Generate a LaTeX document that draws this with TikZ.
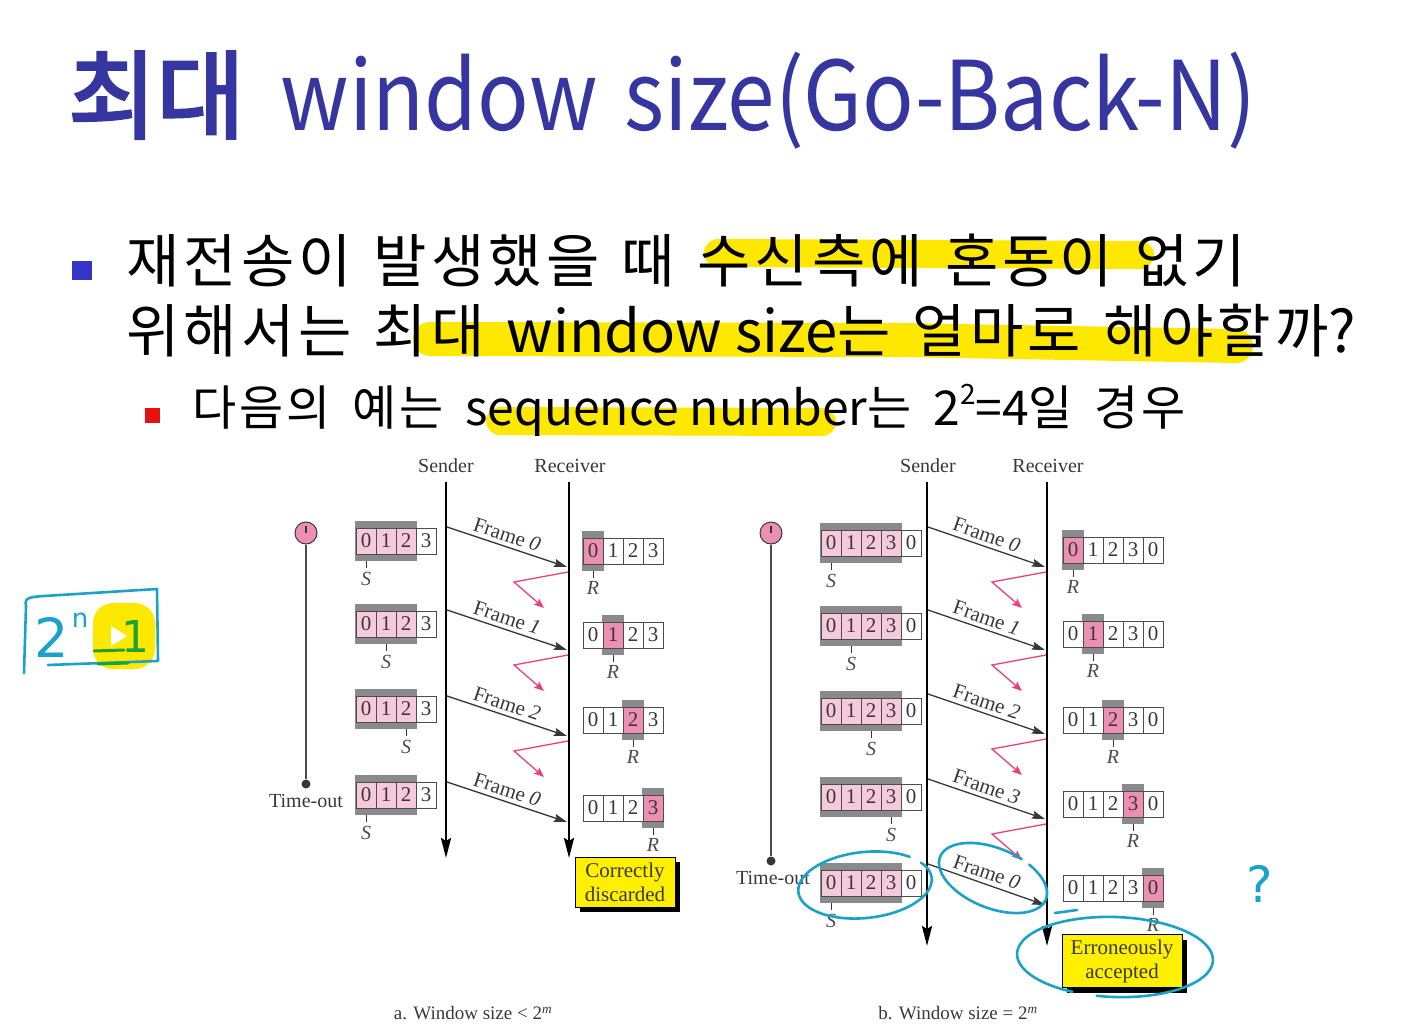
\documentclass[tikz,border=0pt]{standalone}
\usepackage{fontspec}
\setmainfont{Liberation Serif}
\newfontfamily\kr{Noto Sans CJK KR}
\newfontfamily\krs{Noto Sans CJK KR}[LetterSpace=7,WordSpace=1.3]
\newfontfamily\krt{Noto Sans CJK KR}[LetterSpace=6,WordSpace=1.6]
\newfontfamily\krb{Noto Sans CJK KR}[FakeBold=3]
\newfontfamily\hand{DejaVu Sans}
\usetikzlibrary{arrows.meta,calc,shadows}

\definecolor{titleblue}{HTML}{3636A0}
\definecolor{bulletblue}{HTML}{3434C8}
\definecolor{bulletred}{HTML}{E81010}
\definecolor{hl}{HTML}{FFE800}
\definecolor{pinklt}{HTML}{F6CADA}
\definecolor{pinkdk}{HTML}{EC8FB2}
\definecolor{band}{HTML}{8A8A8A}
\definecolor{ackpink}{HTML}{EC4079}
\definecolor{ink}{HTML}{383838}
\definecolor{note}{HTML}{1AA2C8}
\definecolor{notegreen}{HTML}{1BA33A}
\definecolor{boxyellow}{HTML}{FFF000}

% sender window: name, left x, centre y, shaded cells, S index, labels
\newcommand{\sndwin}[6]{%
  \fill[band] ({#2-1},{#3-20}) rectangle ({#2+#4*20+1},{#3+20});
  \foreach \lab [count=\i from 0] in {#6} {
    \ifnum\i<#4 \def\cf{pinklt}\else\def\cf{white}\fi
    \node[cell, fill=\cf] (#1c\i) at ({#2+\i*20+10},#3) {\lab};
  }
  \node[tick] (#1t) at ({#2+#5*20+10},{#3+20}) {};
  \draw[ink, line width=0.9] (#1t.center) -- ++(0,7);
  \node[ptr] (#1s) at ({#2+#5*20+10},{#3+38}) {S};
}
% receiver window: name, left x, centre y, expected index, labels
\newcommand{\rcvwin}[5]{%
  \fill[band] ({#2+#4*20-1},{#3-20}) rectangle ({#2+#4*20+21},{#3+20});
  \foreach \lab [count=\i from 0] in {#5} {
    \ifnum\i=#4 \def\cf{pinkdk}\else\def\cf{white}\fi
    \node[cell, fill=\cf] (#1c\i) at ({#2+\i*20+10},#3) {\lab};
  }
  \node[tick] (#1t) at ({#2+#4*20+10},{#3+20}) {};
  \draw[ink, line width=0.9] (#1t.center) -- ++(0,7);
  \node[ptr] (#1r) at ({#2+#4*20+10},{#3+37}) {R};
}
% frame arrow with its label
\newcommand{\frm}[6]{% name, sender x, receiver x, start y, end y, label
  \coordinate (#1s) at ({#2+1},#4);
  \coordinate (#1e) at ({#3-2},#5);
  \draw[frame] (#1s) -- node[flabel] (#1l) {Frame \textit{#6}} (#1e);
}
% acknowledgement that goes back and is lost
\newcommand{\ack}[3]{% name, receiver x, frame end y
  \coordinate (#1a) at ({#2-1},{#3+5});
  \coordinate (#1b) at ({#2-55},{#3+15});
  \coordinate (#1c) at ({#2-25},{#3+41});
  \draw[ackline] (#1a) -- (#1b) -- (#1c);
}

\begin{document}
\begin{tikzpicture}[x=1pt,y=-1pt,
  cell/.style={draw=ink!90, line width=0.8pt, minimum width=20pt, minimum height=26pt,
    inner sep=0pt, text=ink, font=\fontsize{21}{21}\selectfont},
  tick/.style={inner sep=0pt, minimum size=0pt},
  ptr/.style={text=ink!90, font=\itshape\fontsize{20}{20}\selectfont, inner sep=0pt},
  lbl/.style={text=ink, font=\fontsize{20}{20}\selectfont, inner sep=0pt},
  timeline/.style={line width=2.8pt, black, -{Stealth[length=20pt,width=10pt,inset=3pt]}},
  frame/.style={line width=1.3pt, ink, -{Stealth[length=13pt,width=8pt,inset=2pt]}},
  flabel/.style={sloped, above=3pt, pos=0.47, text=ink, font=\fontsize{21}{21}\selectfont, inner sep=1pt},
  ackline/.style={line width=1.3pt, ackpink, -{Stealth[length=10pt,width=8pt,inset=2pt]}},
  timer/.style={circle, draw=ink, line width=1pt, fill=pinkdk, minimum size=22pt, inner sep=0pt},
  tdot/.style={circle, fill=ink, minimum size=9pt, inner sep=0pt},
  verdict/.style={draw=black, line width=0.6pt, fill=boxyellow, align=center, text=ink,
    font=\fontsize{21}{24}\selectfont, minimum width=100pt, minimum height=50pt, inner sep=2pt,
    drop shadow={shadow xshift=5pt, shadow yshift=-5pt, fill=black, opacity=1}},
  hlstroke/.style={hl, line cap=round, line join=round},
  note/.style={draw=note, line width=2.6pt, line cap=round, line join=round},
]
\useasboundingbox (0,0) rectangle (1405,1024);

% ---------- heading ----------
\node[anchor=base west, text=titleblue, inner sep=0pt] (title) at (68,131)
  {\krb\fontsize{96}{96}\selectfont 최대\hspace{36pt}\kr\scalebox{0.89}[1]{window\hspace{30pt}size(Go-Back-N)}};

% ---------- highlighter strokes ----------
\draw[hlstroke, line width=28pt] (718,253) -- (1140,255);
\draw[hlstroke, line width=34pt] (430,339) -- (900,340) -- (1236,346);
\draw[hlstroke, line width=28pt] (500,421) -- (822,422);

% ---------- bullets ----------
\fill[bulletblue] (72,261) rectangle (92,280);
\node[anchor=base west, inner sep=0pt] (line1) at (126,283)
  {\krs\fontsize{58}{58}\selectfont 재전송이 발생했을 때 수신측에 혼동이 없기};
\node[anchor=base west, inner sep=0pt] (line2) at (126,352)
  {\fontsize{58}{58}\selectfont{\krs 위해서는 최대 }{\kr window size}{\krs 는 얼마로 해야할까}{\kr ?}};
\fill[bulletred] (145,408) rectangle (160,423);
\node[anchor=base west, inner sep=0pt] (line3) at (192,425)
  {\fontsize{48}{48}\selectfont{\krt 다음의 예는 }{\kr sequence number}{\krt 는 }{\kr 2\raisebox{0.42em}{\fontsize{28}{28}\selectfont 2}=4}{\krt 일 경우}};

% ---------- diagram a ----------
\node[lbl] (aSl) at (446,466) {Sender};
\node[lbl] (aRl) at (570,466) {Receiver};
\coordinate (aSt) at (446,482); \coordinate (aSb) at (446,858);
\coordinate (aRt) at (569,482); \coordinate (aRb) at (569,858);
\draw[timeline] (aSt) -- (aSb);
\draw[timeline] (aRt) -- (aRb);

\node[timer] (atm) at (306,533) {};
\draw[ink, line width=1.6pt] (atm.center) -- ++(0,-7);
\node[tdot] (atd) at (306,784) {};
\draw[ink!90, line width=1.3pt] (atm.south) -- (atd);
\node[lbl] (ato) at (306,801) {Time-out};

\sndwin{sa1}{356}{541}{3}{0}{0,1,2,3}
\sndwin{sa2}{356}{624}{3}{1}{0,1,2,3}
\sndwin{sa3}{356}{709}{3}{2}{0,1,2,3}
\sndwin{sa4}{356}{795}{3}{0}{0,1,2,3}

\rcvwin{ra1}{583}{551}{0}{0,1,2,3}
\rcvwin{ra2}{583}{635}{1}{0,1,2,3}
\rcvwin{ra3}{583}{720}{2}{0,1,2,3}
\rcvwin{ra4}{583}{808}{3}{0,1,2,3}

\frm{fa1}{446}{569}{527}{567}{0}
\frm{fa2}{446}{569}{610}{650}{1}
\frm{fa3}{446}{569}{696}{736}{2}
\frm{fa4}{446}{569}{782}{822}{0}
\ack{ka1}{569}{567}
\ack{ka2}{569}{650}
\ack{ka3}{569}{736}

\node[verdict] (aok) at (625,882) {Correctly\\discarded};
\node[lbl, font=\fontsize{19}{19}\selectfont] (acap) at (473,1013) {a. Window size < 2\textsuperscript{\itshape m}};

% ---------- diagram b ----------
\node[lbl] (bSl) at (928,466) {Sender};
\node[lbl] (bRl) at (1048,466) {Receiver};
\coordinate (bSt) at (927,482); \coordinate (bSb) at (927,946);
\coordinate (bRt) at (1047,482); \coordinate (bRb) at (1047,946);
\draw[timeline] (bSt) -- (bSb);
\draw[timeline] (bRt) -- (bRb);

\node[timer] (btm) at (771,533) {};
\draw[ink, line width=1.6pt] (btm.center) -- ++(0,-7);
\node[tdot] (btd) at (771,861) {};
\draw[ink!90, line width=1.3pt] (btm.south) -- (btd);
\node[lbl] (bto) at (773,878) {Time-out};

\sndwin{sb1}{821}{543}{4}{0}{0,1,2,3,0}
\sndwin{sb2}{821}{626}{4}{1}{0,1,2,3,0}
\sndwin{sb3}{821}{711}{4}{2}{0,1,2,3,0}
\sndwin{sb4}{821}{797}{4}{3}{0,1,2,3,0}
\sndwin{sb5}{821}{883}{4}{0}{0,1,2,3,0}

\rcvwin{rb1}{1063}{550}{0}{0,1,2,3,0}
\rcvwin{rb2}{1063}{634}{1}{0,1,2,3,0}
\rcvwin{rb3}{1063}{720}{2}{0,1,2,3,0}
\rcvwin{rb4}{1063}{804}{3}{0,1,2,3,0}
\rcvwin{rb5}{1063}{888}{4}{0,1,2,3,0}

\frm{fb1}{927}{1047}{527}{567}{0}
\frm{fb2}{927}{1047}{610}{650}{1}
\frm{fb3}{927}{1047}{694}{734}{2}
\frm{fb4}{927}{1047}{779}{819}{3}
\frm{fb5}{927}{1047}{864}{905}{0}
\ack{kb1}{1047}{567}
\ack{kb2}{1047}{650}
\ack{kb3}{1047}{734}
\ack{kb4}{1047}{819}

\node[verdict, minimum width=120pt, minimum height=53pt] (bok) at (1122,961) {Erroneously\\accepted};
\node[lbl, font=\fontsize{19}{19}\selectfont] (bcap) at (958,1013) {b. Window size = 2\textsuperscript{\itshape m}};

% ---------- pen notes ----------
\fill[hl, rounded corners=20pt] (93,603) rectangle (155,669);
\fill[white] (111,626) -- (111,646) -- (127,636) -- cycle;
\draw[note] (26,606) .. controls (24,596) and (30,597) .. (60,595) -- (157,589) -- (158,661);
\draw[note] (26,606) -- (24,673);
\draw[note] (48,665) -- (157,661);
\node[text=note, font=\hand\fontsize{54}{54}\selectfont, inner sep=0pt] (two) at (52,637) {2};
\node[text=note, font=\hand\fontsize{26}{26}\selectfont, inner sep=0pt] (sup) at (80,620) {n};
\draw[draw=notegreen, line width=3pt, line cap=round] (94,651) -- (124,650);
\draw[draw=notegreen, line width=3pt, line cap=round] (98,664) -- (128,663);
\node[text=notegreen, font=\hand\fontsize{44}{44}\selectfont, inner sep=0pt] (one) at (135,636) {1};

\coordinate (e1) at (865,885);
\draw[note, rotate around={6:(e1)}] (e1) ++(-30:67 and 33) arc[start angle=-30, delta angle=345, x radius=67, y radius=33];
\coordinate (e2) at (993,878);
\draw[note, rotate around={-22:(e2)}] (e2) ++(-60:57 and 30) arc[start angle=-60, delta angle=350, x radius=57, y radius=30];
\coordinate (e3) at (1115,957);
\draw[note, rotate around={-2:(e3)}] (e3) ++(115:98 and 40) arc[start angle=115, delta angle=345, x radius=98, y radius=40];
\draw[note] (1055,913) -- (1077,910);
\node[text=note, font=\hand\fontsize{50}{50}\selectfont, inner sep=0pt] (qm) at (1260,884) {?};
\end{tikzpicture}
\end{document}
